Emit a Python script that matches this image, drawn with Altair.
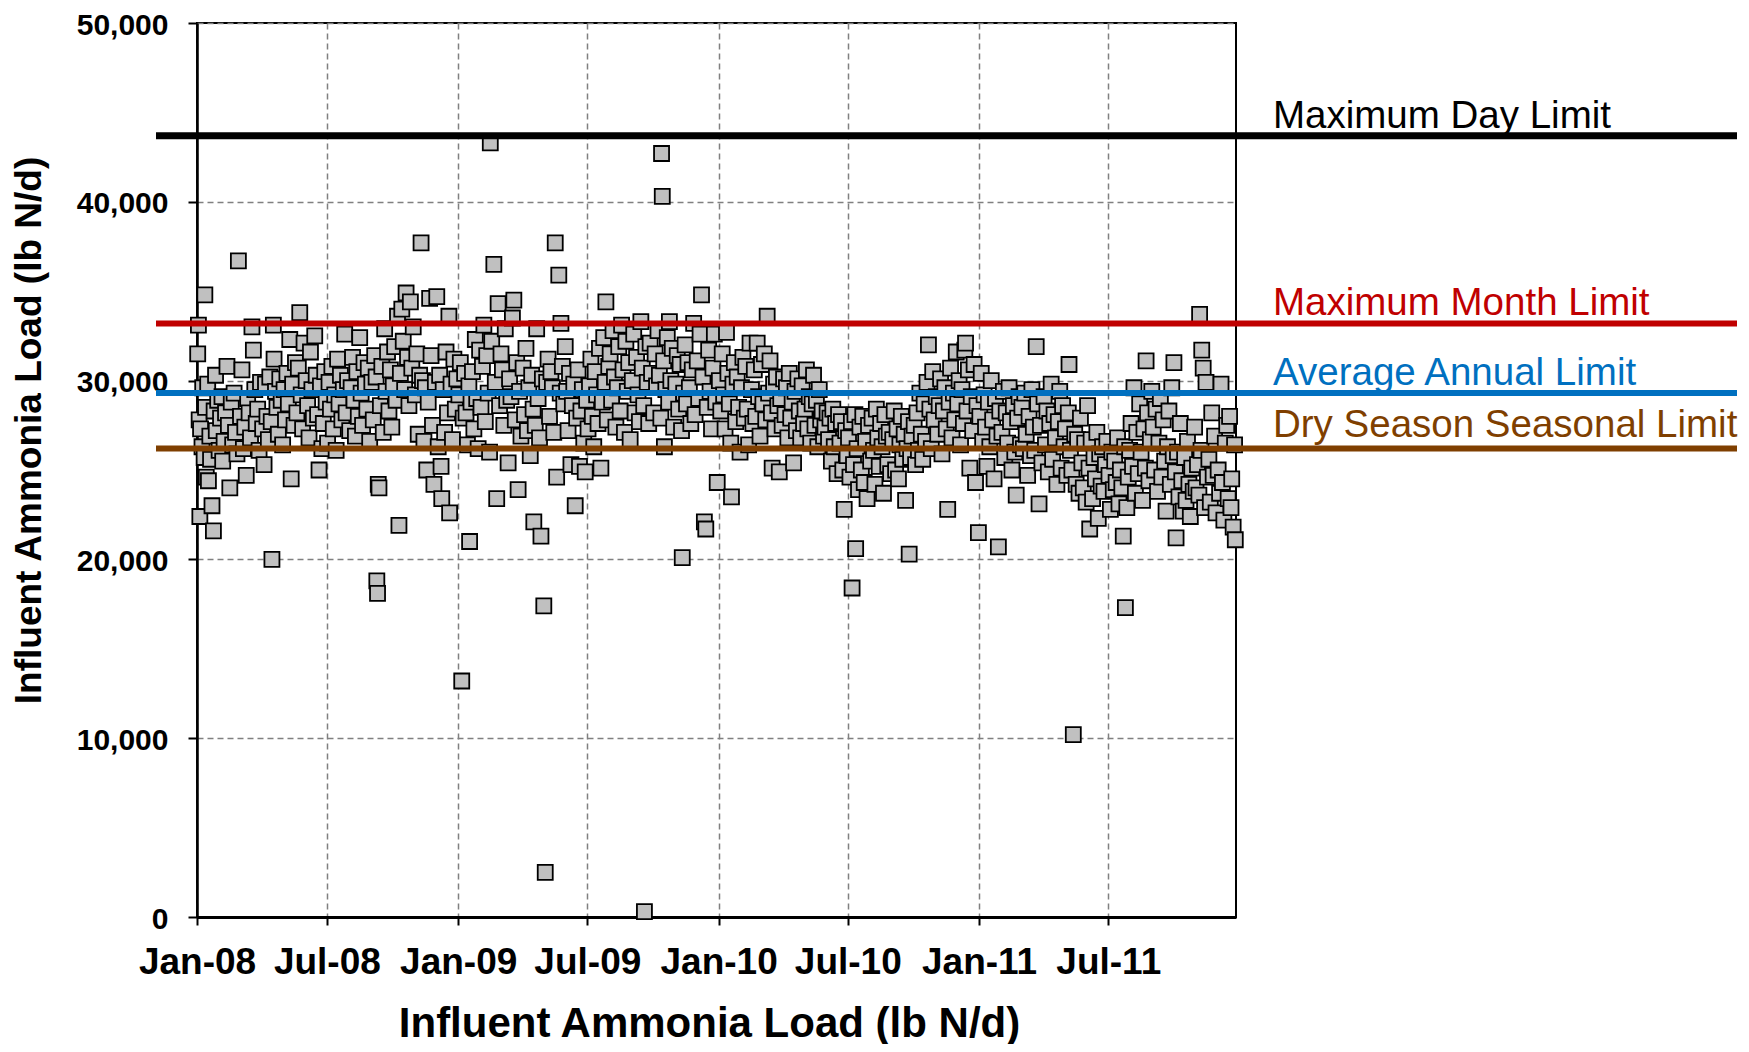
import altair as alt
import pandas as pd

# (day offset since 2008-01-01, influent ammonia load lb N/d)
pts_2008 = [
    (1,31500),(2,33100),(3,27800),(4,22400),(5,27300),(7,26300),(8,29600),(10,25700),(11,34800),(12,28500),
    (13,24600),(15,29800),(16,24400),(18,26900),(19,25600),(21,23000),(23,21600),(24,28300),(26,30300),(27,27200),(29,28900),
    (31,26100),(33,27900),(35,29100),(36,25500),(38,26600),(40,28200),(42,30800),(44,27500),(46,24000),(48,28800),
    (50,26400),(52,29300),(54,27100),(56,25900),(58,36700),
    (61,28000),(63,30600),(65,26200),(67,27400),(69,24700),(71,29000),(73,28200),(75,26800),(77,33000),(79,31700),
    (81,29500),(83,27600),(85,28400),(87,26100),(89,29900),
    (92,27300),(94,25300),(96,29800),(98,28000),(100,26700),(102,30200),(104,27700),(105,20000),(107,33100),(108,31200),
    (110,29400),(112,28500),(114,27000),(116,30100),(118,28900),(120,26400),
    (122,29500),(124,27800),(126,30400),(128,28700),(130,32300),(132,24500),(134,29800),(136,27500),(138,31000),(140,28200),
    (142,30700),(144,33800),(146,29200),(148,27300),(150,32100),
    (153,30000),(155,28600),(157,26800),(159,31600),(161,29500),(163,27900),(165,32500),(167,30300),(169,28100),(171,25000),
    (173,29700),(175,26200),(177,27600),(179,30500),(181,28800),
    (183,26500),(185,29900),(187,28400),(189,30800),(191,27300),(193,29200),(195,26100),(197,31200),(199,28700),(201,30300),
    (203,27800),(205,29500),(207,32600),(209,28200),(211,30000),
    (214,27200),(216,29600),(218,31300),(220,28900),(222,26900),(224,30500),(226,28000),(228,32400),(230,29300),(232,27500),
    (234,31000),(236,29800),(238,28400),(240,30700),(242,26600),
    (245,29900),(247,27800),(249,31400),(251,30200),(252,18800),(253,18100),(254,24200),(255,24000),(257,28600),(259,30800),
    (261,27100),(263,32900),(265,29400),(267,31600),(269,28300),(271,30600),(273,27400),
    (275,29700),(277,31900),(279,28900),(281,33600),(283,21900),(285,30400),(287,34000),(289,32200),(291,29500),(293,34900),
    (295,31300),(297,28600),(299,34400),(301,30700),(303,33000),
    (306,29200),(308,31500),(310,27000),(312,30300),(314,37700),(316,30000),(318,26600),(320,29600),(322,25000),(324,28800),
    (326,34600),(328,31400),(330,27500),(332,24200),(334,29900),
    (336,34700),(338,26300),(340,30300),(342,25200),(343,23400),(345,29500),(347,27100),(349,31600),(351,28200),(353,33600),
    (354,22600),(356,29800),(358,26700),(360,31200),(362,28400),(364,30100),
]
pts_2009 = [
    (367,29200),(369,31000),(371,13200),(373,27900),(375,30400),(377,28200),(379,26400),(381,29700),(382,21000),(384,28800),
    (386,30500),(388,27300),(390,32300),(392,29000),(394,26200),(396,31700),
    (398,28500),(400,30800),(402,33100),(404,27700),(406,31400),(408,29300),(410,26000),(411,43300),(413,32200),(416,36500),
    (418,29900),(420,23400),(422,34300),(424,28600),
    (426,31500),(428,30600),(430,27500),(432,32900),(434,28900),(436,25400),(438,30100),(440,29100),(442,33500),(444,34500),
    (446,27800),(448,31000),(450,23900),(452,29400),(454,26900),
    (457,30700),(459,28100),(461,31800),(463,27200),(465,29600),(467,25800),(469,30300),(471,28400),(472,22100),(474,27500),
    (476,32900),(478,29000),(480,26800),(482,21300),(484,30100),
    (486,17400),(488,2500),(490,29900),(492,31200),(494,28000),(496,30500),(498,29600),(500,27100),(502,37700),(504,24600),
    (507,35900),(509,29300),(510,33200),(512,30800),(514,28700),(516,31900),
    (518,29400),(520,27200),(522,30400),(524,25300),(526,28600),(528,29800),(530,23000),(532,27900),(534,30600),(536,25200),
    (538,28300),(540,29500),(542,26500),(544,24900),(546,28900),
    (548,27300),(550,29700),(552,31200),(554,28000),(556,26300),(558,30500),(560,29200),(562,27600),(564,31800),(566,25100),
    (568,28800),(570,32400),(572,29900),(573,34400),(575,27800),(577,30800),
    (579,31500),(581,28900),(583,32800),(585,30200),(587,27400),(589,29600),(591,31900),(593,28300),(595,33100),(597,30600),
    (599,27100),(601,32200),(603,29400),(605,31000),(607,26700),
    (610,30000),(612,32600),(614,28200),(616,31300),(618,29200),(620,27700),(622,33300),(624,30700),(626,28600),(627,300),
    (629,31900),(631,29900),(633,27600),(635,32100),(637,30400),
    (640,28200),(642,31500),(644,29700),(646,32800),(648,30300),(650,27900),(651,42700),(652,40300),(654,31100),(655,26300),
    (657,29500),(659,32400),(661,28800),(662,33300),(664,30000),(666,31800),(668,27400),
    (671,29800),(673,31400),(675,28400),(677,30900),(679,27200),(680,20100),(682,29300),(684,32000),(686,28700),(688,31000),
    (690,29600),(692,27600),(694,30600),(696,33200),(698,28100),
    (701,31100),(703,29000),(705,32600),(707,34800),(709,30200),(711,22100),(713,21700),(715,28500),(717,31700),(719,29400),
    (721,27300),(723,30700),(725,32600),(727,28800),(729,24300),
]
pts_2010 = [
    (732,30000),(734,28300),(736,31500),(738,29200),(740,27300),(742,32700),(744,30400),(746,28700),(748,26500),(749,23500),
    (751,29800),(753,31000),(755,27700),(757,30200),(759,28500),(761,26000),
    (763,29600),(765,31300),(767,27900),(769,30800),(771,28400),(773,26400),(775,32100),(777,29500),(779,27600),(781,30600),
    (783,28000),(785,32100),(787,29100),(789,26900),
    (791,30900),(793,28700),(795,31500),(797,27800),(799,33600),(801,29300),(803,31100),(805,28200),(806,25100),(808,29800),
    (810,27300),(812,30200),(814,28600),(816,24900),(818,29000),(820,27500),
    (822,30100),(824,28100),(826,29600),(828,26800),(830,30400),(832,27900),(834,28800),(836,25400),(838,29400),(840,27200),
    (842,30100),(844,28300),(846,26800),(848,29700),(850,27600),
    (852,28400),(854,30600),(856,27300),(858,29100),(860,26500),(862,28700),(864,30300),(866,27500),(868,28900),(870,26300),
    (872,29500),(874,27800),(876,28300),(878,26900),(880,27400),
    (883,28200),(885,26700),(887,27900),(889,25500),(891,28400),(893,26300),(895,27600),(897,24800),(899,28100),(901,26500),
    (903,27700),(905,25000),(907,22800),(909,27200),(911,25800),
    (913,26800),(915,24600),(917,27700),(918,18400),(920,25300),(922,28100),(923,20600),(925,26200),(927,23900),(929,27400),
    (931,25000),(933,28000),(935,24300),(937,26600),(939,23400),(941,27500),
    (944,25500),(946,27900),(948,26100),(950,24200),(952,28400),(954,26800),(956,25200),(958,27600),(960,26300),(962,23700),
    (964,28100),(966,26900),(968,25300),(970,27100),(972,24800),
    (975,26700),(977,28300),(979,25000),(981,27300),(983,24500),(985,26400),(987,28000),(989,25600),(991,27000),(993,23300),
    (995,26200),(997,27700),(998,20300),(1000,25700),(1002,26900),
    (1005,27500),(1007,25300),(1009,28200),(1011,26100),(1013,29300),(1015,27000),(1017,25600),(1019,28700),(1021,26600),(1023,29900),
    (1025,32000),(1027,28400),(1029,26200),(1031,30500),(1033,27800),
    (1036,29100),(1038,27000),(1040,28600),(1042,30100),(1044,25900),(1046,28300),(1048,29600),(1050,27300),(1052,22800),(1054,28800),
    (1056,30700),(1058,26800),(1060,29300),(1062,27800),(1064,31600),
    (1066,28700),(1068,30000),(1070,26400),(1072,29500),(1074,27600),(1076,31700),(1077,32100),(1079,28300),(1081,30600),(1083,25100),
    (1085,29100),(1087,27200),(1089,30900),(1091,24300),(1093,28600),(1095,21500),
]
pts_2011 = [
    (1097,28000),(1099,30400),(1101,26600),(1103,29200),(1105,27400),(1107,25200),(1109,28800),(1111,26300),(1113,30000),(1115,27800),
    (1117,24500),(1119,29000),(1121,26900),(1123,20700),(1125,28300),
    (1128,27100),(1130,29400),(1132,25700),(1134,28200),(1136,26500),(1138,29600),(1140,27700),(1142,25000),(1144,28600),(1146,26000),
    (1148,23600),(1150,27900),(1152,29100),(1154,26400),
    (1156,28500),(1158,26200),(1160,29300),(1162,27000),(1164,24700),(1166,28000),(1168,25800),(1170,29500),(1172,27400),(1174,26100),
    (1176,31900),(1178,28700),(1180,23100),(1182,27500),(1184,25400),
    (1187,29100),(1189,26400),(1191,28300),(1193,24900),(1195,27600),(1197,29800),(1199,25600),(1201,28100),(1203,26800),(1205,24200),
    (1207,27700),(1209,29400),(1211,25100),(1213,28600),(1215,26300),
    (1217,27300),(1219,24700),(1221,28200),(1222,30900),(1224,26100),(1226,25000),(1228,10200),(1230,27000),(1232,24200),(1234,26700),
    (1236,23700),(1238,27900),(1240,25400),(1242,24000),(1244,26500),(1246,23200),
    (1248,28600),(1250,25100),(1251,21700),(1253,26700),(1255,23400),(1257,25700),(1259,24500),(1261,27100),(1263,22300),(1265,25900),
    (1267,24100),(1269,26300),(1271,23800),(1273,25300),(1275,26600),
    (1278,24700),(1280,22800),(1282,26000),(1284,23900),(1286,25500),(1288,24300),(1290,26800),(1292,23100),(1294,25000),(1296,24000),
    (1298,21300),(1300,26300),(1301,17300),(1303,22900),(1305,24600),(1307,26100),
    (1309,27600),(1311,25200),(1313,29600),(1315,23700),(1317,27100),(1319,24800),(1321,28700),(1323,26000),(1325,23300),(1327,27300),
    (1329,25100),(1330,31100),(1332,28200),(1334,24400),(1336,26700),(1338,29400),
    (1340,27400),(1342,25000),(1344,28400),(1346,23800),(1348,26500),(1350,29000),(1352,24600),(1354,27800),(1356,25500),(1358,22700),
    (1360,26300),(1362,28300),(1364,24200),(1366,29600),(1368,25800),
    (1369,31000),(1371,24900),(1372,21200),(1374,26000),(1376,23500),(1378,27600),(1380,24400),(1382,22700),(1384,25700),(1386,23300),
    (1388,26600),(1390,24200),(1392,22400),(1394,25100),(1396,23800),(1398,27400),
    (1400,24000),(1402,25300),(1404,23600),(1405,33700),(1407,26100),(1408,31700),(1410,30700),(1412,22900),(1414,29900),(1416,24600),
    (1418,25600),(1420,23200),(1422,28200),(1424,24700),(1426,26900),(1428,22600),
    (1431,25000),(1433,23700),(1435,29800),(1437,24300),(1439,22200),(1441,26500),(1443,27500),(1445,23400),(1447,28000),(1449,22900),
    (1450,24500),(1452,21800),(1454,26400),(1455,21100),
]

limit_names = ["Maximum Day Limit", "Maximum Month Limit", "Average Annual Limit", "Dry Season Seasonal Limit"]
limit_values = [43700, 33200, 29300, 26200]
limit_colors = ["#000000", "#C00000", "#0070C0", "#7F3F00"]

x_tick_dates = [(2008, 1), (2008, 7), (2009, 1), (2009, 7), (2010, 1), (2010, 7), (2011, 1), (2011, 7)]
y_tick_values = [0, 10000, 20000, 30000, 40000, 50000]
x_domain = ["2008-01-01", "2011-12-27"]

FONT = "Liberation Sans"
W, H = 1039, 894

all_pts = pts_2008 + pts_2009 + pts_2010 + pts_2011
start = pd.Timestamp("2008-01-01")
df = pd.DataFrame({
    "date": [(start + pd.Timedelta(days=d)).strftime("%Y-%m-%d") for d, _ in all_pts],
    "load": [v for _, v in all_pts],
})

def dt(s):
    y, m, d = [int(p) for p in s.split("-")]
    return alt.DateTime(year=y, month=m, date=d, utc=True)

x_enc = alt.X(
    "date:T",
    scale=alt.Scale(type="utc", domain=[dt(x_domain[0]), dt(x_domain[1])]),
    axis=alt.Axis(
        values=[alt.DateTime(year=y, month=m, date=1, utc=True) for y, m in x_tick_dates],
        format="%b-%y", formatType="time",
        labelFont=FONT, labelFontSize=37, labelFontWeight="bold", labelColor="black",
        labelPadding=19, labelFlush=False, labelOverlap=False,
        tickSize=8, tickColor="black", tickWidth=2,
        domainColor="black", domainWidth=3,
        grid=True, gridDash=[6, 4], gridColor="#808080", gridWidth=1.5,
        title="Influent Ammonia Load (lb N/d)",
        titleFont=FONT, titleFontSize=42, titleFontWeight="bold", titleColor="black",
        titleX=512, titleY=119, titleAlign="center", titleBaseline="alphabetic",
    ),
)
y_enc = alt.Y(
    "load:Q",
    scale=alt.Scale(domain=[0, 50000], nice=False, zero=True),
    axis=alt.Axis(
        values=y_tick_values, format=",d",
        labelFont=FONT, labelFontSize=30, labelFontWeight="bold", labelColor="black",
        labelPadding=20, labelFlush=False, labelOffset=2,
        tickSize=9, tickColor="black", tickWidth=2,
        domainColor="black", domainWidth=2.5,
        grid=True, gridDash=[6, 4], gridColor="#808080", gridWidth=1.5,
        title="Influent Ammonia Load (lb N/d)",
        titleFont=FONT, titleFontSize=37, titleFontWeight="bold", titleColor="black",
        titleAngle=270, titleX=-168, titleY=407, titleAlign="center", titleBaseline="middle",
    ),
)

points = alt.Chart(df).mark_square(
    size=225, filled=True, color="#C0C0C0", stroke="black", strokeWidth=1.8, opacity=1
).encode(x=x_enc, y=y_enc)

layers = [points]
widths = [7, 6, 6, 6]
dys = [-8, -8, -8, -12]
for name, val, col, w, dy in zip(limit_names, limit_values, limit_colors, widths, dys):
    ldf = pd.DataFrame({"load": [val], "name": [name]})
    rule = alt.Chart(ldf).mark_rule(color=col, strokeWidth=w).encode(
        y=alt.Y("load:Q"), x=alt.value(-41), x2=alt.value(1540)
    )
    txt = alt.Chart(ldf).mark_text(
        align="left", baseline="alphabetic", dy=dy, font=FONT, fontSize=38.5, color=col
    ).encode(y=alt.Y("load:Q"), x=alt.value(1076), text="name:N")
    layers += [rule, txt]

chart = alt.layer(*layers).properties(
    width=W, height=H,
    autosize=alt.AutoSizeParams(type="none"),
    padding={"left": 189, "top": 15, "right": 505, "bottom": 127},
).configure_view(stroke="black", strokeWidth=2)

chart.save("out.html", embed_options={"renderer": "svg", "actions": False})
